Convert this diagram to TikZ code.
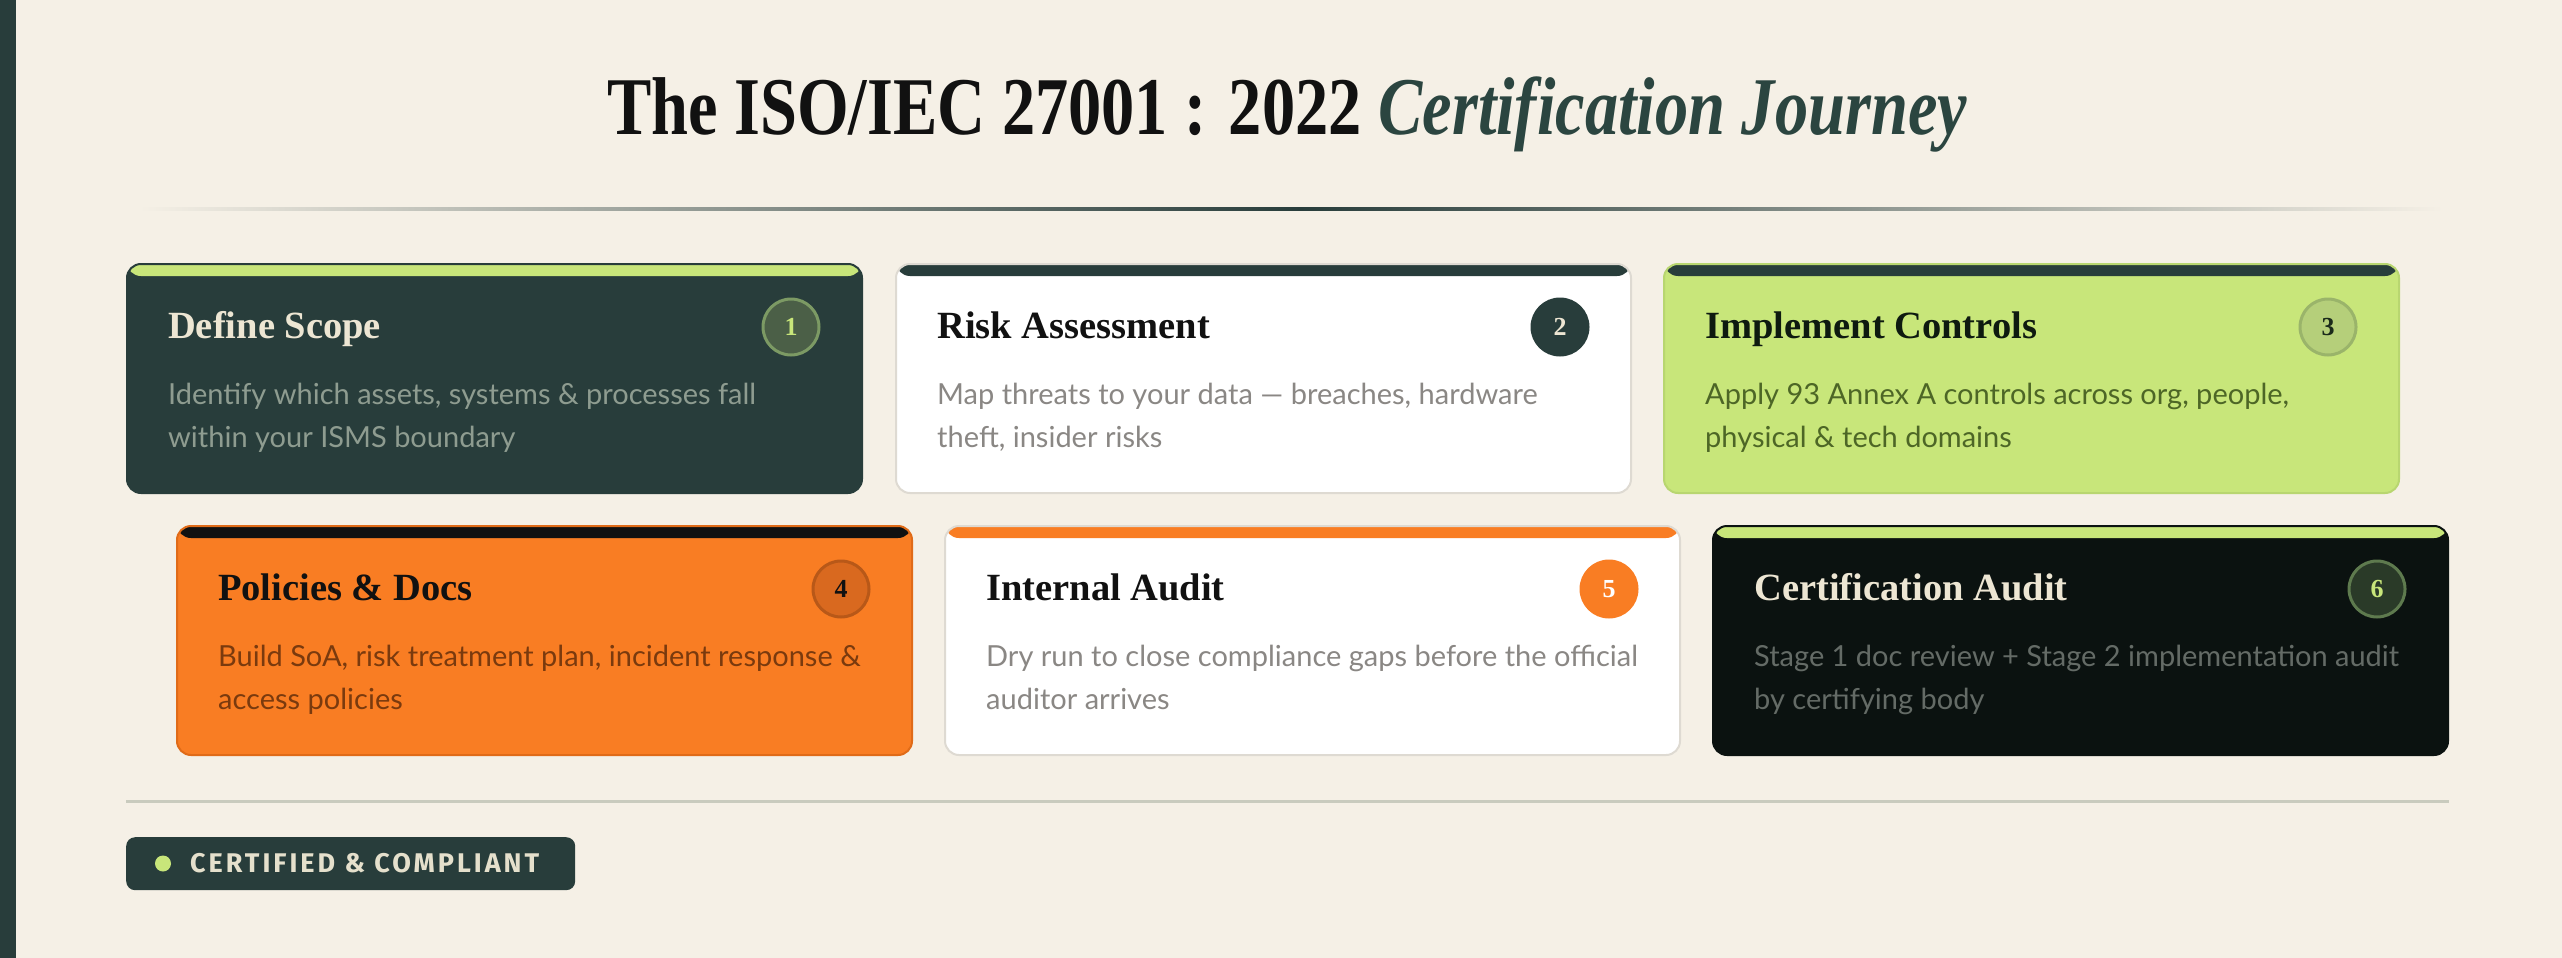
\documentclass[tikz,border=0pt]{standalone}
\usepackage{fontspec}
\usepackage{graphicx}
\setmainfont{Liberation Serif}
\newfontfamily\bodyfont{Lato}
\newfontfamily\badgefont[LetterSpace=11]{Fira Sans}
\definecolor{bg}{HTML}{F5F0E6}
\definecolor{teal}{HTML}{283D3B}
\definecolor{tealtxt}{HTML}{2B4540}
\definecolor{lime}{HTML}{C8E67A}
\definecolor{orng}{HTML}{F97D23}
\definecolor{inkk}{HTML}{0B1210}
\definecolor{cream}{HTML}{EDE6D3}
\definecolor{ruleclr}{HTML}{C9CBBE}
\definecolor{whiteborder}{HTML}{DEDAD2}
\definecolor{darktxt}{HTML}{111111}
\definecolor{bodyA}{HTML}{8E9C90}
\definecolor{bodyB}{HTML}{8A8784}
\definecolor{bodyC}{HTML}{4D6626}
\definecolor{bodyD}{HTML}{7A3A0E}
\definecolor{bodyF}{HTML}{646B66}
\definecolor{numAfill}{HTML}{4B5F47}
\definecolor{numAdraw}{HTML}{7C9A64}
\definecolor{numCfill}{HTML}{B5CF7A}
\definecolor{numCdraw}{HTML}{9AB46A}
\definecolor{numCtxt}{HTML}{1A2A1A}
\definecolor{numDfill}{HTML}{D9691F}
\definecolor{numDdraw}{HTML}{B85818}
\definecolor{numFfill}{HTML}{2A3A28}
\definecolor{numFdraw}{HTML}{5E7A4E}
\definecolor{limeborder}{HTML}{B8D670}
\definecolor{orngborder}{HTML}{E06B18}
\definecolor{titleC}{HTML}{0E1A10}
\definecolor{badgetxt}{HTML}{E5E0CC}
\tikzset{
  card/.style={rectangle, rounded corners=14pt, minimum width=735pt, minimum height=229pt, anchor=north west, line width=2pt, inner sep=0pt},
  strip/.style={path picture={\fill[#1] (path picture bounding box.north west) rectangle ([yshift=-12pt]path picture bounding box.north east);}},
  ctitle/.style={anchor=base west, inner sep=0pt, font=\bfseries\fontsize{38.5}{42}\selectfont},
  cbody/.style={anchor=base west, inner sep=0pt, font=\bodyfont\fontsize{29}{43}\selectfont},
  num/.style={circle, minimum size=56pt, inner sep=0pt, line width=3pt, font=\bfseries\fontsize{26}{26}\selectfont}
}
\begin{document}
\begin{tikzpicture}[x=1pt,y=-1pt]
\fill[bg] (0,0) rectangle (2562,958);
\useasboundingbox (0,0) rectangle (2562,958);
\fill[teal] (0,0) rectangle (16,958);

% title
\node[anchor=base, inner sep=0pt, font=\bfseries\fontsize{82}{96}\selectfont, text=darktxt] (title) at (1287,134)
  {\scalebox{0.81}[1]{The ISO/IEC 27001 : 2022 \textcolor{tealtxt}{\itshape Certification Journey}}};
\shade[left color=bg, right color=teal] (139,207.5) rectangle (1300,210.5);
\shade[left color=teal, right color=bg] (1300,207.5) rectangle (2443,210.5);

% row 1
\node[card, fill=teal, draw=teal, strip=lime] (c1) at (126,263) {};
\node[ctitle, text=cream] (t1) at ([xshift=42pt,yshift=-75pt]c1.north west) {Define Scope};
\node[cbody, text=bodyA] (b1a) at ([xshift=42pt,yshift=-141pt]c1.north west) {Identify which assets, systems \& processes fall};
\node[cbody, text=bodyA] (b1b) at ([xshift=42pt,yshift=-184pt]c1.north west) {within your ISMS boundary};
\node[num, fill=numAfill, draw=numAdraw, text=lime] (n1) at ([xshift=-72pt,yshift=-64pt]c1.north east) {1};

\node[card, fill=white, draw=whiteborder, strip=teal] (c2) at (895,263) {};
\node[ctitle, text=darktxt] (t2) at ([xshift=42pt,yshift=-75pt]c2.north west) {Risk Assessment};
\node[cbody, text=bodyB] (b2a) at ([xshift=42pt,yshift=-141pt]c2.north west) {Map threats to your data — breaches, hardware};
\node[cbody, text=bodyB] (b2b) at ([xshift=42pt,yshift=-184pt]c2.north west) {theft, insider risks};
\node[num, fill=teal, draw=teal, text=cream] (n2) at ([xshift=-72pt,yshift=-64pt]c2.north east) {2};

\node[card, fill=lime, draw=limeborder, strip=teal] (c3) at (1663,263) {};
\node[ctitle, text=titleC] (t3) at ([xshift=42pt,yshift=-75pt]c3.north west) {Implement Controls};
\node[cbody, text=bodyC] (b3a) at ([xshift=42pt,yshift=-141pt]c3.north west) {Apply 93 Annex A controls across org, people,};
\node[cbody, text=bodyC] (b3b) at ([xshift=42pt,yshift=-184pt]c3.north west) {physical \& tech domains};
\node[num, fill=numCfill, draw=numCdraw, text=numCtxt] (n3) at ([xshift=-72pt,yshift=-64pt]c3.north east) {3};

% row 2
\node[card, fill=orng, draw=orngborder, strip=darktxt] (c4) at (176,525) {};
\node[ctitle, text=darktxt] (t4) at ([xshift=42pt,yshift=-75pt]c4.north west) {Policies \& Docs};
\node[cbody, text=bodyD] (b4a) at ([xshift=42pt,yshift=-141pt]c4.north west) {Build SoA, risk treatment plan, incident response \&};
\node[cbody, text=bodyD] (b4b) at ([xshift=42pt,yshift=-184pt]c4.north west) {access policies};
\node[num, fill=numDfill, draw=numDdraw, text=darktxt] (n4) at ([xshift=-72pt,yshift=-64pt]c4.north east) {4};

\node[card, fill=white, draw=whiteborder, strip=orng] (c5) at (944,525) {};
\node[ctitle, text=darktxt] (t5) at ([xshift=42pt,yshift=-75pt]c5.north west) {Internal Audit};
\node[cbody, text=bodyB] (b5a) at ([xshift=42pt,yshift=-141pt]c5.north west) {Dry run to close compliance gaps before the official};
\node[cbody, text=bodyB] (b5b) at ([xshift=42pt,yshift=-184pt]c5.north west) {auditor arrives};
\node[num, fill=orng, draw=orng, text=white] (n5) at ([xshift=-72pt,yshift=-64pt]c5.north east) {5};

\node[card, fill=inkk, draw=inkk, strip=lime] (c6) at (1712,525) {};
\node[ctitle, text=cream] (t6) at ([xshift=42pt,yshift=-75pt]c6.north west) {Certification Audit};
\node[cbody, text=bodyF] (b6a) at ([xshift=42pt,yshift=-141pt]c6.north west) {Stage 1 doc review + Stage 2 implementation audit};
\node[cbody, text=bodyF] (b6b) at ([xshift=42pt,yshift=-184pt]c6.north west) {by certifying body};
\node[num, fill=numFfill, draw=numFdraw, text=lime] (n6) at ([xshift=-72pt,yshift=-64pt]c6.north east) {6};

% divider and badge
\coordinate (d1) at (126,801);
\coordinate (d2) at (2449,801);
\draw[ruleclr, line width=3pt] (d1) -- (d2);
\node[rectangle, rounded corners=9pt, fill=teal, minimum width=449pt, minimum height=53pt, anchor=north west, inner sep=0pt] (badge) at (126,837) {};
\node[circle, fill=lime, minimum size=16pt, inner sep=0pt] (dot) at (163,863.5) {};
\node[anchor=west, inner sep=0pt, text=badgetxt, font=\badgefont\bfseries\fontsize{27}{27}\selectfont] (btxt) at (190,863.5) {CERTIFIED \& COMPLIANT};
\end{tikzpicture}
\end{document}
